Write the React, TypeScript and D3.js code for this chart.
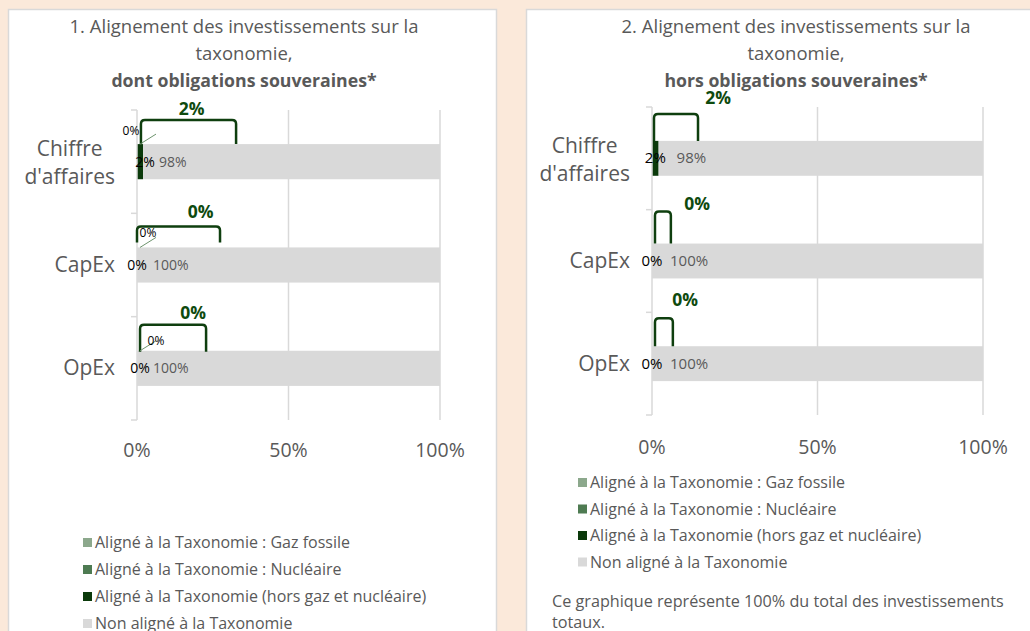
import React from "react";
import * as d3 from "d3";

const categories = ["Chiffre d'affaires", "CapEx", "OpEx"];
const categoryLines = [["Chiffre", "d'affaires"], ["CapEx"], ["OpEx"]];

// Chart 1 : dont obligations souveraines
const c1Gas = [0, 0, 0];
const c1Nuclear = [0, 0, 0];
const c1Aligned = [2, 0, 0];
const c1NonAligned = [98, 100, 100];

// Chart 2 : hors obligations souveraines
const c2Gas = [0, 0, 0];
const c2Nuclear = [0, 0, 0];
const c2Aligned = [2, 0, 0];
const c2NonAligned = [98, 100, 100];

const xTicks = [0, 50, 100];

const legendLabels = [
  "Aligné à la Taxonomie : Gaz fossile",
  "Aligné à la Taxonomie : Nucléaire",
  "Aligné à la Taxonomie (hors gaz et nucléaire)",
  "Non aligné à la Taxonomie",
];

const titles1 = ["1. Alignement des investissements sur la", "taxonomie,", "dont obligations souveraines*"];
const titles2 = ["2. Alignement des investissements sur la", "taxonomie,", "hors obligations souveraines*"];
const footnote = ["Ce graphique représente 100% du total des investissements", "totaux."];

// Manually drawn bracket annotations (in % units of the x axis)
const c1BracketStart = [1.3, 0, 1];
const c1BracketEnd = [32.7, 27.4, 22.8];
const c1BracketLabelAt = [18, 21, 18.5];
const c2BracketStart = [0.6, 0.9, 0.9];
const c2BracketEnd = [13.9, 5.7, 6.3];
const c2BracketLabelAt = [20, 13.6, 10];

const COL = {
  bg: "#FBE9DA",
  border: "#D9D9D9",
  gas: "#8CA88C",
  nuclear: "#4E7B52",
  aligned: "#0B3A0B",
  non: "#D9D9D9",
  text: "#595959",
  bracket: "#0F3F0F",
  grid: "#D9D9D9",
};
const FONT = "'Open Sans', 'DejaVu Sans', sans-serif";

let _ctx: CanvasRenderingContext2D | null = null;
function measure(text: string, font: string) {
  if (!_ctx) _ctx = document.createElement("canvas").getContext("2d");
  _ctx!.font = font;
  return _ctx!.measureText(text).width;
}

type ChartProps = {
  x0: number; x1: number; y0: number; y1: number;
  gas: number[]; nuclear: number[]; aligned: number[]; non: number[];
  bStart: number[]; bEnd: number[]; bLabel: number[];
  bTop: number[]; bBottom: number[]; bLabelUp: number[];
  innerSize: number; nonDx: number; alignedDx: number[];
  gasLabels: boolean; gasDx: number[]; gasDy: number[];
  tickDy: number;
};

function Chart(p: ChartProps) {
  const x = d3.scaleLinear().domain([0, 100]).range([p.x0, p.x1]);
  const y = d3.scaleBand<string>().domain(categories).range([p.y0, p.y1]).paddingInner(0.66).paddingOuter(0.33);
  const bw = y.bandwidth();
  const boundaries = d3.range(categories.length + 1).map((i) =>
    i === categories.length ? p.y1 : p.y0 + i * y.step()
  );
  const stack = d3.stack<number>().keys(["gas", "nuclear", "aligned", "non"] as any)
    .value((i: any, k: any) => (p as any)[k][i])(d3.range(categories.length) as any);
  const colors = [COL.gas, COL.nuclear, COL.aligned, COL.non];
  const catFont = `21px ${FONT}`;
  return (
    <g>
      {xTicks.filter((t) => t > 0).map((t) => (
        <line key={t} x1={x(t)} x2={x(t)} y1={p.y0} y2={p.y1} stroke={COL.grid} strokeWidth={1.5} />
      ))}
      {stack.map((s, si) =>
        s.map((d, i) => (
          <rect key={si + "-" + i} x={x(d[0])} y={y(categories[i])!} width={Math.max(0, x(d[1]) - x(d[0]))} height={bw} fill={colors[si]} />
        ))
      )}
      <line x1={p.x0} x2={p.x0} y1={p.y0} y2={p.y1} stroke={COL.grid} strokeWidth={1.5} />
      {boundaries.map((b, i) => (
        <line key={i} x1={p.x0 - 6} x2={p.x0} y1={b} y2={b} stroke={COL.grid} strokeWidth={1.5} />
      ))}
      {xTicks.map((t) => (
        <text key={t} x={x(t)} y={p.y1 + p.tickDy} textAnchor="middle" fontSize={19.5} fill={COL.text} fontFamily={FONT}>{t}%</text>
      ))}
      {categories.map((c, i) => {
        const lines = categoryLines[i];
        const cy = y(c)! + bw / 2;
        const maxW = Math.max(...lines.map((l) => measure(l, catFont)));
        const cx = p.x0 - 22 - maxW / 2;
        return lines.map((l, li) => (
          <text key={c + li} x={cx} y={lines.length === 1 ? cy + 7 : cy - 5.5 + li * 28} textAnchor="middle" fontSize={21} fill={COL.text} fontFamily={FONT}>{l}</text>
        ));
      })}
      {categories.map((c, i) => {
        const top = y(c)!;
        const xa = x(p.bStart[i]);
        const xb = x(p.bEnd[i]);
        const yt = top - p.bTop[i];
        const yb = top - p.bBottom[i];
        const r = 4;
        const path = `M${xa},${yb} L${xa},${yt + r} Q${xa},${yt} ${xa + r},${yt} L${xb - r},${yt} Q${xb},${yt} ${xb},${yt + r} L${xb},${yb}`;
        const total = p.gas[i] + p.nuclear[i] + p.aligned[i];
        return (
          <g key={"br" + c}>
            <path d={path} fill="none" stroke={COL.bracket} strokeWidth={2.5} />
            <text x={x(p.bLabel[i])} y={yt - p.bLabelUp[i] + 6} textAnchor="middle" fontSize={17.5} fontWeight="bold" fill="#0E4A0E" fontFamily={FONT}>{total}%</text>
          </g>
        );
      })}
      {categories.map((c, i) => {
        const top = y(c)!;
        const cy = top + bw / 2 + 5;
        const alStart = p.gas[i] + p.nuclear[i];
        const alMid = x(alStart + p.aligned[i] / 2) + p.alignedDx[i];
        const nonStart = x(alStart + p.aligned[i]);
        return (
          <g key={"lab" + c}>
            <text x={alMid} y={cy} textAnchor="middle" fontSize={p.innerSize} fill="#000" fontFamily={FONT}>{p.aligned[i]}%</text>
            <text x={nonStart + p.nonDx} y={cy} fontSize={p.innerSize} fill={COL.text} fontFamily={FONT}>{p.non[i]}%</text>
            {p.gasLabels && (
              <g>
                <line x1={x(0) + 3} y1={top} x2={x(0) + 3 + 16} y2={top - 10} stroke="#6E946E" strokeWidth={1} />
                <text x={x(0) + p.gasDx[i]} y={top - p.gasDy[i] + 4} textAnchor="middle" fontSize={12} fill="#000" fontFamily={FONT}>{p.gas[i]}%</text>
              </g>
            )}
          </g>
        );
      })}
    </g>
  );
}

function Legend({ x, y0, step }: { x: number; y0: number; step: number }) {
  const cols = [COL.gas, COL.nuclear, COL.aligned, COL.non];
  return (
    <g>
      {legendLabels.map((l, i) => (
        <g key={l}>
          <rect x={x} y={y0 + i * step - 5} width={9} height={9} fill={cols[i]} />
          <text x={x + 12} y={y0 + i * step + 5} fontSize={16} fill={COL.text} fontFamily={FONT}>{l}</text>
        </g>
      ))}
    </g>
  );
}

export default function App() {
  return (
    <svg width={1030} height={631} style={{ position: "absolute", left: 0, top: 0 }}>
      <rect x={0} y={0} width={1030} height={631} fill={COL.bg} />
      <rect x={8.5} y={9.5} width={488} height={640} fill="#fff" stroke={COL.border} strokeWidth={1.5} />
      <rect x={526.5} y={9.5} width={520} height={640} fill="#fff" stroke={COL.border} strokeWidth={1.5} />
      {titles1.map((t, i) => (
        <text key={"t1" + i} x={244} y={33 + i * 27} textAnchor="middle" fontSize={i === 2 ? 17.7 : 18.5} fontWeight={i === 2 ? "bold" : "normal"} fill={COL.text} fontFamily={FONT}>{t}</text>
      ))}
      {titles2.map((t, i) => (
        <text key={"t2" + i} x={796} y={33 + i * 27} textAnchor="middle" fontSize={i === 2 ? 17.7 : 18.5} fontWeight={i === 2 ? "bold" : "normal"} fill={COL.text} fontFamily={FONT}>{t}</text>
      ))}
      <Chart x0={137} x1={440} y0={110} y1={420}
        gas={c1Gas} nuclear={c1Nuclear} aligned={c1Aligned} non={c1NonAligned}
        bStart={c1BracketStart} bEnd={c1BracketEnd} bLabel={c1BracketLabelAt}
        bTop={[24, 21, 26]} bBottom={[0, 5, -1]} bLabelUp={[11, 14, 12]}
        innerSize={14} nonDx={16} alignedDx={[5, 0, 3]}
        gasLabels={true} gasDx={[-6, 11, 19]} gasDy={[13, 14, 10]} tickDy={37} />
      <Chart x0={652} x1={983} y0={107} y1={415}
        gas={c2Gas} nuclear={c2Nuclear} aligned={c2Aligned} non={c2NonAligned}
        bStart={c2BracketStart} bEnd={c2BracketEnd} bLabel={c2BracketLabelAt}
        bTop={[27, 32, 28]} bBottom={[0, 0, 0]} bLabelUp={[16, 8, 18]}
        innerSize={15} nonDx={18} alignedDx={[0, 0, 0]}
        gasLabels={false} gasDx={[0, 0, 0]} gasDy={[0, 0, 0]} tickDy={39} />
      <Legend x={83} y0={543} step={27} />
      <Legend x={578} y0={483} step={26.5} />
      {footnote.map((t, i) => (
        <text key={"f" + i} x={552} y={607 + i * 21} fontSize={16.2} fill={COL.text} fontFamily={FONT}>{t}</text>
      ))}
    </svg>
  );
}
